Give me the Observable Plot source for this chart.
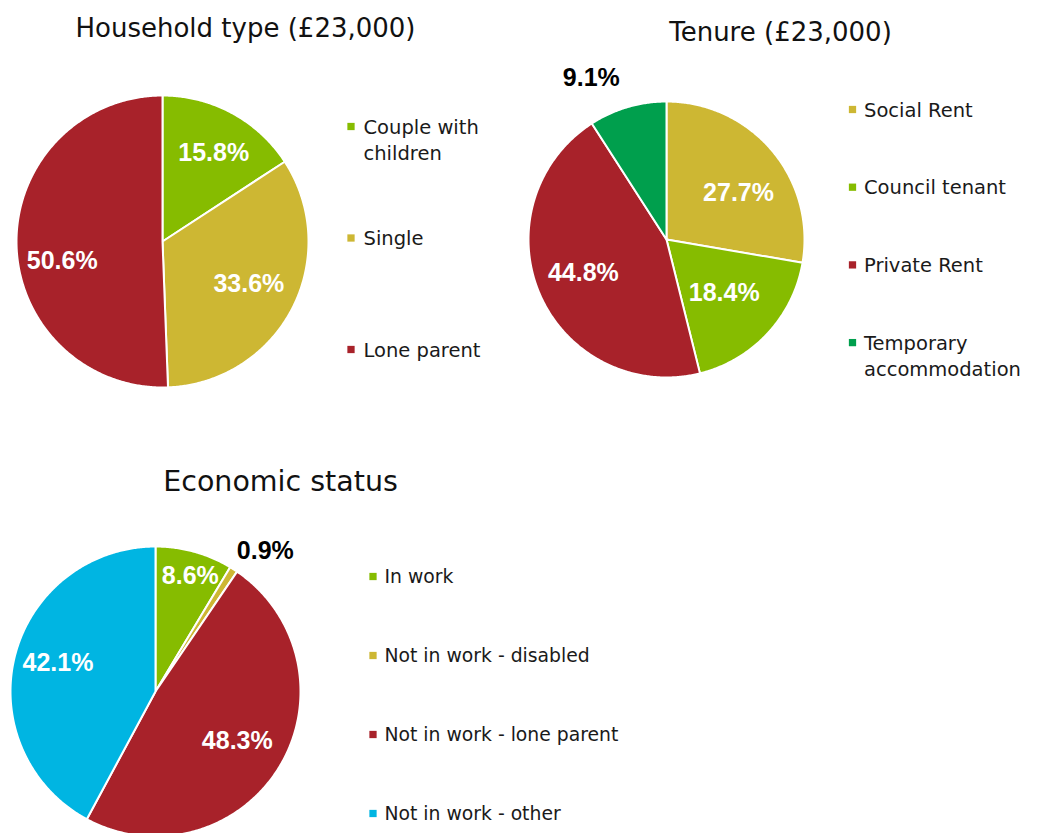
<!DOCTYPE html>
<html>
<head>
<meta charset="utf-8">
<script src="https://cdn.jsdelivr.net/npm/d3@7"></script>
<script src="https://cdn.jsdelivr.net/npm/@observablehq/plot@0.6"></script>
<style>
  html, body { margin: 0; padding: 0; background: #ffffff; }
  #chart svg { display: block; }
</style>
</head>
<body>
<div id="chart"></div>
<script>
// ---------- DATA ----------
const chartTitles = ["Household type (£23,000)", "Tenure (£23,000)", "Economic status"];

const householdTypes = ["Couple with children", "Single", "Lone parent"];
const householdShares = [15.8, 33.6, 50.6];

const tenureTypes = ["Social Rent", "Council tenant", "Private Rent", "Temporary accommodation"];
const tenureShares = [27.7, 18.4, 44.8, 9.1];

const economicTypes = ["In work", "Not in work - disabled", "Not in work - lone parent", "Not in work - other"];
const economicShares = [8.6, 0.9, 48.3, 42.1];

// ---------- STYLE / LAYOUT ----------
const RED = "#A8222A", OLIVE = "#CDB733", GREEN = "#86BC00", DKGREEN = "#009F4D", CYAN = "#00B5E2";
const pieColors = [
  [GREEN, OLIVE, RED],
  [OLIVE, GREEN, RED, DKGREEN],
  [GREEN, OLIVE, RED, CYAN]
];
const wrapped = {"Couple with children": "Couple with\nchildren", "Temporary accommodation": "Temporary\naccommodation"};

const layout = [
  {cx: 162, cy: 241, r: 146, titleX: 245, titleY: 28, titleSize: 26, legendX: 350.5, legendY0: 126, legendStep: 111.5, legendGap: 12.5, legendSize: 19.5,
   labelPos: [[0.70, 1.6], [0.66, -1], [0.70, -10]], outside: [false, false, false]},
  {cx: 666, cy: 239, r: 138, titleX: 780, titleY: 32, titleSize: 26, legendX: 852, legendY0: 109, legendStep: 77.7, legendGap: 11.5, legendSize: 19.5,
   labelPos: [[0.62, 7.5], [0.57, 0], [0.65, 1.4], [1.29, -8.6]], outside: [false, false, false, true]},
  {cx: 155, cy: 691, r: 145, titleX: 280, titleY: 481, titleSize: 28.5, legendX: 372.5, legendY0: 576, legendStep: 79, legendGap: 11.5, legendSize: 18.8,
   labelPos: [[0.83, 1.3], [1.23, 5.4], [0.66, 0], [0.70, 2]], outside: [false, true, false, false]}
];

const pies = [
  {cats: householdTypes, vals: householdShares},
  {cats: tenureTypes, vals: tenureShares},
  {cats: economicTypes, vals: economicShares}
];

// ---------- BUILD ----------
const slicePoints = [];
const valueLabels = [];
const legendItems = [];
const titleItems = [];

pies.forEach((p, pi) => {
  const L = layout[pi];
  titleItems.push({x: L.titleX, y: L.titleY, text: chartTitles[pi], size: L.titleSize});
  const arcs = d3.pie().sort(null).value(d => d)(p.vals);
  arcs.forEach((a, i) => {
    const key = pi + "-" + i;
    const color = pieColors[pi][i];
    const pt = (ang, rr) => ({x: L.cx + rr * Math.sin(ang), y: L.cy - rr * Math.cos(ang)});
    slicePoints.push({key, color, ...pt(0, 0)});
    const n = Math.max(2, Math.ceil((a.endAngle - a.startAngle) / (Math.PI / 360)));
    for (let k = 0; k <= n; k++) {
      const ang = a.startAngle + (a.endAngle - a.startAngle) * k / n;
      slicePoints.push({key, color, ...pt(ang, L.r)});
    }
    slicePoints.push({key, color, ...pt(0, 0)});
    const mid = (a.startAngle + a.endAngle) / 2 + L.labelPos[i][1] * Math.PI / 180;
    const lp = pt(mid, L.labelPos[i][0] * L.r);
    valueLabels.push({...lp, text: p.vals[i].toFixed(1) + "%", outside: L.outside[i]});
    legendItems.push({x: L.legendX, y: L.legendY0 + i * L.legendStep, gap: L.legendGap, size: L.legendSize, color, text: wrapped[p.cats[i]] || p.cats[i]});
  });
});

const FONT = "'Century Gothic', 'DejaVu Sans', sans-serif";
const BOLD = "'Liberation Sans', Arial, sans-serif";

const legendMarks = [...new Set(legendItems.map(d => d.size))].map(s =>
  Plot.text(legendItems.filter(d => d.size === s), {x: d => d.x + d.gap, y: "y", text: "text", fill: "#1a1a1a", fontSize: s, textAnchor: "start", lineAnchor: "top", dy: -11, lineHeight: 1.32, fontFamily: FONT})
);
const titleMarks = titleItems.map(t =>
  Plot.text([t], {x: "x", y: "y", text: "text", fill: "#111111", fontSize: t.size, textAnchor: "middle", fontFamily: FONT})
);

const chart = Plot.plot({
  width: 1045,
  height: 833,
  margin: 0,
  x: {domain: [0, 1045], range: [0, 1045], axis: null},
  y: {domain: [0, 833], range: [0, 833], axis: null},
  color: {type: "identity"},
  style: {fontFamily: FONT, background: "#ffffff"},
  marks: [
    Plot.line(slicePoints, {x: "x", y: "y", z: "key", fill: "color", stroke: "#ffffff", strokeWidth: 2, strokeLinejoin: "round", curve: "linear"}),
    Plot.text(valueLabels.filter(d => !d.outside), {x: "x", y: "y", text: "text", fill: "#ffffff", fontSize: 25, fontWeight: "bold", fontFamily: BOLD, textAnchor: "middle"}),
    Plot.text(valueLabels.filter(d => d.outside), {x: "x", y: "y", text: "text", fill: "#000000", fontSize: 25, fontWeight: "bold", fontFamily: BOLD, textAnchor: "middle"}),
    Plot.dot(legendItems, {x: "x", y: "y", fill: "color", symbol: "square", r: 4.1, stroke: null}),
    ...legendMarks,
    ...titleMarks
  ]
});

document.getElementById("chart").appendChild(chart);
</script>
</body>
</html>
